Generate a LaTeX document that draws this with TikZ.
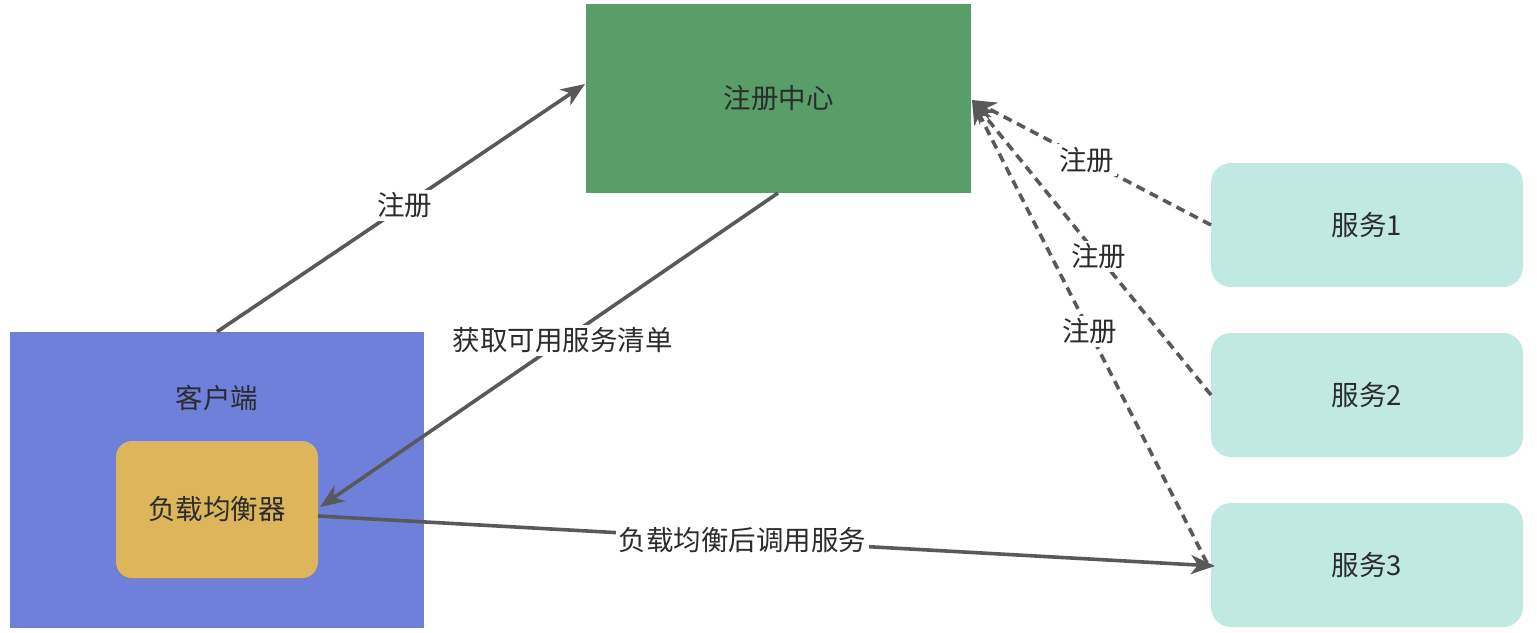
\documentclass[tikz,border=0pt]{standalone}
\usepackage{fontspec}
\newfontfamily\cjk{Noto Sans CJK SC}
\usetikzlibrary{arrows.meta,calc}
\definecolor{regc}{HTML}{599D69}
\definecolor{cliec}{HTML}{6F80DA}
\definecolor{lbc}{HTML}{DDB65C}
\definecolor{svc}{HTML}{C0E9E3}
\definecolor{linec}{HTML}{595959}
\definecolor{txt}{HTML}{2B2B2B}
\begin{document}
\begin{tikzpicture}[x=1pt,y=-1pt,
  box/.style={draw=none, inner sep=0pt, text=txt, font=\cjk\fontsize{27.5}{32}\selectfont},
  conn/.style={draw=linec, line width=3.6pt, -{Stealth[length=24pt,width=19pt,inset=7pt]}},
  dconn/.style={conn, dash pattern=on 9pt off 6pt},
  lbl/.style={fill=white, text=txt, inner sep=3pt, font=\cjk\fontsize{27.5}{32}\selectfont}]
\useasboundingbox (0,0) rectangle (1537,632);
% boxes
\node[box, fill=regc, minimum width=385pt, minimum height=189pt] (reg) at (778.5,98.5) {注册中心};
\node[box, fill=cliec, minimum width=414pt, minimum height=296pt] (client) at (217,480) {};
\node[box] (clientlbl) at (217,398) {客户端};
\node[box, fill=lbc, rounded corners=16pt, minimum width=202pt, minimum height=137pt] (lb) at (217,509.5) {负载均衡器};
\node[box, fill=svc, rounded corners=20pt, minimum width=312pt, minimum height=124pt] (s1) at (1367,225) {服务1};
\node[box, fill=svc, rounded corners=20pt, minimum width=312pt, minimum height=124pt] (s2) at (1367,395) {服务2};
\node[box, fill=svc, rounded corners=20pt, minimum width=312pt, minimum height=124pt] (s3) at (1367,565) {服务3};
% connector ends
\coordinate (regIn) at (585,84);
\coordinate (regOut) at (778,193);
\coordinate (lbIn) at (320,507);
\coordinate (lbOut) at (318,516);
\coordinate (s3In) at (1215,566);
\coordinate (regR) at (972,100);
\coordinate (s1Out) at (1211,225);
\coordinate (s2Out) at (1211,395);
\coordinate (s3Out) at (1207,563);
% connectors
\draw[conn] (client.north) -- node[lbl, pos=0.51] {注册} (regIn);
\draw[conn] (regOut) -- node[lbl, pos=0.47] {获取可用服务清单} (lbIn);
\draw[conn] (lbOut) -- node[lbl, pos=0.473] {负载均衡后调用服务} (s3In);
\draw[dconn] (s1Out) -- node[lbl, pos=0.52] {注册} (regR);
\draw[dconn] (s2Out) -- node[lbl, pos=0.47] {注册} (regR);
\draw[dconn] (s3Out) -- node[lbl, pos=0.5] {注册} (regR);
\end{tikzpicture}
\end{document}
